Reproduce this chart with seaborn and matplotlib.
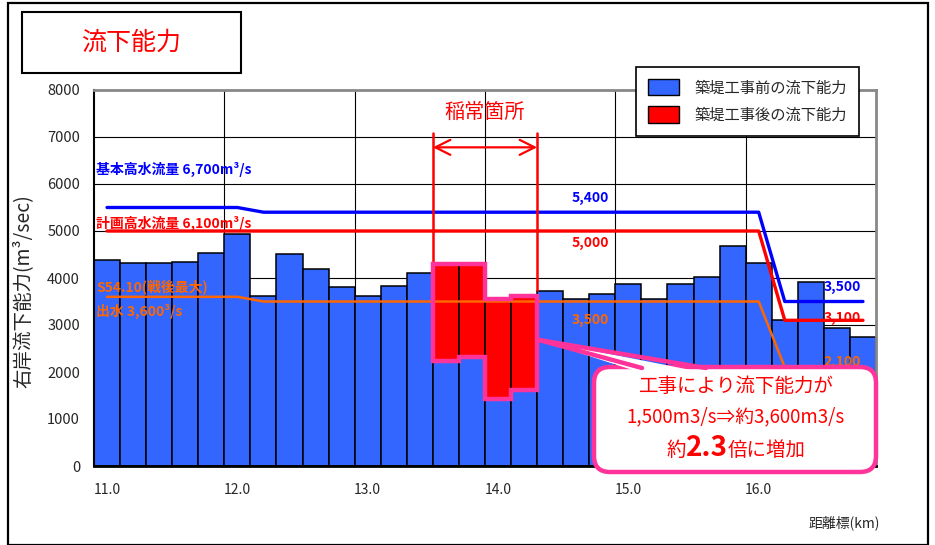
import matplotlib
matplotlib.use('Agg')
import matplotlib.pyplot as plt
import matplotlib.patches as mpatches
import matplotlib.transforms as mtransforms
from matplotlib.lines import Line2D
from matplotlib.offsetbox import TextArea, HPacker, AnnotationBbox
import pandas as pd
import seaborn as sns

# 距離標 (km) - one bar per 200 m
km = ['11.0', '11.2', '11.4', '11.6', '11.8', '12.0', '12.2', '12.4', '12.6', '12.8',
      '13.0', '13.2', '13.4', '13.6', '13.8', '14.0', '14.2', '14.4', '14.6', '14.8',
      '15.0', '15.2', '15.4', '15.6', '15.8', '16.0', '16.2', '16.4', '16.6', '16.8']

# 築堤工事前の流下能力
before = [4380, 4320, 4320, 4350, 4540, 4930, 3620, 4500, 4200, 3800,
          3620, 3830, 4100, 2230, 2310, 1430, 1620, 3730, 3560, 3660,
          3880, 3560, 3880, 4030, 4680, 4320, 3100, 3910, 2930, 2750]

# 築堤工事後の流下能力 (稲常箇所)
repair_km = ['13.6', '13.8', '14.0', '14.2']
after = [4300, 4300, 3560, 3620]

# 基本高水流量 / 計画高水流量 / S54.10出水
kihon = [5500, 5500, 5500, 5500, 5500, 5500, 5400, 5400, 5400, 5400,
         5400, 5400, 5400, 5400, 5400, 5400, 5400, 5400, 5400, 5400,
         5400, 5400, 5400, 5400, 5400, 5400, 3500, 3500, 3500, 3500]
keikaku = [5000, 5000, 5000, 5000, 5000, 5000, 5000, 5000, 5000, 5000,
           5000, 5000, 5000, 5000, 5000, 5000, 5000, 5000, 5000, 5000,
           5000, 5000, 5000, 5000, 5000, 5000, 3100, 3100, 3100, 3100]
s5410 = [3600, 3600, 3600, 3600, 3600, 3600, 3500, 3500, 3500, 3500,
         3500, 3500, 3500, 3500, 3500, 3500, 3500, 3500, 3500, 3500,
         3500, 3500, 3500, 3500, 3500, 3500, 2100, 2100, 2100, 2100]

tick_km = ['11.0', '12.0', '13.0', '14.0', '15.0', '16.0']

sns.set_theme(style='white')
plt.rcParams['font.family'] = ['Noto Sans CJK JP', 'DejaVu Sans']

BLUE_BAR = '#3366FF'
RED = '#FF0000'
BLUE = '#0000FF'
ORANGE = '#FF6600'
PINK = '#FF3399'

W, H = 935, 545
fig = plt.figure(figsize=(W / 100, H / 100), dpi=100)
ax = fig.add_axes([94 / W, (H - 466) / H, (876 - 94) / W, (466 - 90) / H])

df = pd.DataFrame({'km': km, 'before': before})
pos = list(range(len(km)))

# grid behind bars
for v in range(1000, 8000, 1000):
    ax.axhline(v, color='black', lw=0.8, zorder=0)
for t in tick_km[1:]:
    ax.axvline(km.index(t) - 0.5, color='black', lw=0.8, zorder=0)

sns.barplot(data=df, x='km', y='before', order=km, color=BLUE_BAR, saturation=1,
            width=1.0, edgecolor='black', linewidth=1.1, ax=ax, zorder=2)

# after-construction bars on top of the before bars
ridx = [km.index(k) for k in repair_km]
rbot = [before[i] for i in ridx]
ax.bar(ridx, [a - b for a, b in zip(after, rbot)], bottom=rbot, width=1.0,
       color=RED, edgecolor='black', linewidth=1.1, zorder=3)

ax.plot(pos, kihon, color=BLUE, lw=2.4, zorder=4)
ax.plot(pos, keikaku, color=RED, lw=2.4, zorder=4)
ax.plot(pos, s5410, color=ORANGE, lw=1.8, zorder=4)

# pink outline around the repaired section
verts = []
for j, i in enumerate(ridx):
    verts += [(i - 0.5, after[j]), (i + 0.5, after[j])]
for j in reversed(range(len(ridx))):
    i = ridx[j]
    verts += [(i + 0.5, rbot[j]), (i - 0.5, rbot[j])]
ax.add_patch(mpatches.Polygon(verts, closed=True, fill=False, edgecolor=PINK,
                              lw=3.2, joinstyle='miter', zorder=5))

# 稲常箇所 marker
x0, x1 = ridx[0] - 0.5, ridx[-1] + 0.5
ax.plot([x0, x0], [7080, after[0]], color=RED, lw=1.8, zorder=4)
ax.plot([x1, x1], [7080, 3750], color=RED, lw=1.8, zorder=4)
ax.annotate('', xy=(x0, 6780), xytext=(x1, 6780),
            arrowprops=dict(arrowstyle='<->,head_length=0.9,head_width=0.45',
                            color=RED, lw=1.6, shrinkA=0, shrinkB=0), zorder=4)
ax.text((x0 + x1) / 2, 7520, '稲常箇所', color=RED, fontsize=14.5,
        ha='center', va='center', zorder=5)

bold = dict(fontweight='bold', va='center', zorder=5)
ax.text(-0.42, 6300, '基本高水流量 6,700m³/s', color=BLUE, fontsize=10, ha='left', **bold)
ax.text(-0.42, 5170, '計画高水流量 6,100m³/s', color=RED, fontsize=10, ha='left', **bold)
ax.text(-0.42, 3810, 'S54.10(戦後最大)', color=ORANGE, fontsize=10, ha='left', **bold)
ax.text(-0.42, 3280, '出水 3,600³/s', color=ORANGE, fontsize=10, ha='left', **bold)
ax.text(18.55, 5700, '5,400', color=BLUE, fontsize=10, ha='center', **bold)
ax.text(18.55, 4745, '5,000', color=RED, fontsize=10, ha='center', **bold)
ax.text(18.55, 3100, '3,500', color=ORANGE, fontsize=10, ha='center', **bold)
ax.text(28.2, 3810, '3,500', color=BLUE, fontsize=10, ha='center', **bold)
ax.text(28.2, 3150, '3,100', color=RED, fontsize=10, ha='center', **bold)
ax.text(28.2, 2210, '2,100', color=ORANGE, fontsize=10, ha='center', **bold)

ax.set_xlim(-0.5, len(km) - 0.5)
ax.set_ylim(0, 8000)
ax.set_yticks(range(0, 8001, 1000))
ax.set_yticklabels([str(v) for v in range(0, 8001, 1000)], fontsize=10.5)
ax.set_xticks([km.index(t) for t in tick_km])
ax.set_xticklabels(tick_km, fontsize=10)
ax.tick_params(axis='y', direction='in', length=4, width=1, pad=10, color='black')
ax.tick_params(axis='x', length=0, pad=12)
ax.set_xlabel('')
ax.set_ylabel('右岸流下能力(m³/sec)', fontsize=14)
ax.yaxis.set_label_coords(-0.077, 0.465)

for s in ['left', 'bottom']:
    ax.spines[s].set_color('black')
ax.spines['left'].set_linewidth(1.5)
ax.spines['bottom'].set_linewidth(2)
for s in ['top', 'right']:
    ax.spines[s].set_color('#888888')
    ax.spines[s].set_linewidth(2)

fig.text(880 / W, 1 - 523 / H, '距離標(km)', fontsize=10, ha='right', va='center')

# legend
handles = [mpatches.Patch(facecolor=BLUE_BAR, edgecolor='black', label='築堤工事前の流下能力'),
           mpatches.Patch(facecolor=RED, edgecolor='black', label='築堤工事後の流下能力')]
leg = fig.legend(handles=handles, loc='upper left', bbox_to_anchor=(636 / W, 1 - 67 / H),
                 fontsize=11, frameon=True, fancybox=False, framealpha=1,
                 edgecolor='black', borderpad=0.8, handlelength=2.0, handleheight=1.25,
                 handletextpad=1.0, labelspacing=0.65, borderaxespad=0)
leg.get_frame().set_linewidth(1.2)

# frames drawn in pixel coordinates
ident = mtransforms.IdentityTransform()


def px(x, y):
    return (x, H - y)


fig.add_artist(mpatches.Rectangle(px(8, 545), 920, 542, transform=ident, fill=False,
                                  edgecolor='black', lw=1.6, zorder=20))
fig.add_artist(mpatches.Rectangle(px(22, 73), 219, 61, transform=ident, fill=False,
                                  edgecolor='black', lw=1.5, zorder=20))
fig.text(131 / W, 1 - 43 / H, '流下能力', color=RED, fontsize=18, ha='center', va='center')

# callout
box = mpatches.FancyBboxPatch(px(594, 472), 282, 105, transform=ident,
                              boxstyle='round,pad=0,rounding_size=16',
                              facecolor='white', edgecolor=PINK, lw=3.2, zorder=10)
fig.add_artist(box)
tip, b1, b2 = px(539, 340), px(642, 368), px(706, 368)
fig.add_artist(mpatches.Polygon([tip, px(642, 373), px(706, 373)], closed=True,
                                transform=ident, facecolor='white', edgecolor='none', zorder=11))
for b in (b1, b2):
    fig.add_artist(Line2D([tip[0], b[0]], [tip[1], b[1]], transform=ident,
                          color=PINK, lw=3.2, solid_capstyle='round', zorder=12))

fig.text(736 / W, 1 - 387 / H, '工事により流下能力が', color=RED, fontsize=14,
         ha='center', va='center', zorder=13)
fig.text(736 / W, 1 - 417 / H, '1,500m3/s⇒約3,600m3/s', color=RED, fontsize=13.5,
         ha='center', va='center', zorder=13)
line3 = HPacker(children=[TextArea('約', textprops=dict(color=RED, fontsize=14)),
                          TextArea('2.3', textprops=dict(color=RED, fontsize=20, fontweight='bold')),
                          TextArea('倍に増加', textprops=dict(color=RED, fontsize=14))],
                align='baseline', pad=0, sep=0)
ab = AnnotationBbox(line3, (736, H - 448), xycoords='figure pixels', frameon=False,
                    box_alignment=(0.5, 0.5), zorder=13)
fig.add_artist(ab)

fig.savefig('out.png', dpi=100)
